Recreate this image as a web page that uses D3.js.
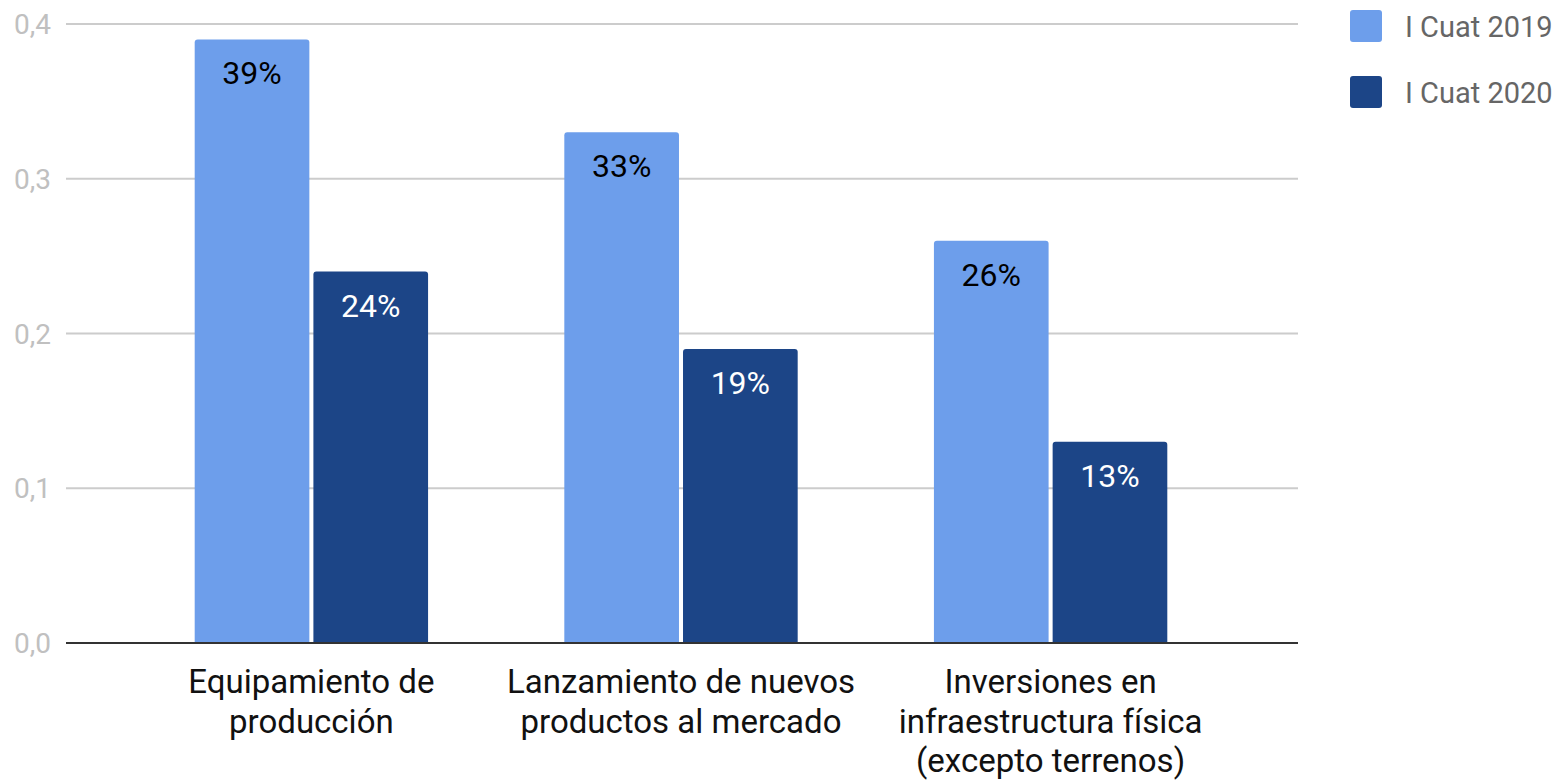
<!DOCTYPE html>
<html><head><meta charset="utf-8">
<script src="https://cdn.jsdelivr.net/npm/d3@7"></script>
<style>body{margin:0;background:#fff}svg{display:block;font-family:Roboto,sans-serif}</style>
</head><body><svg id="c" width="1560" height="782"></svg>
<script>
const categories = [["Equipamiento de","producción"],["Lanzamiento de nuevos","productos al mercado"],["Inversiones en","infraestructura física","(excepto terrenos)"]];
const seriesNames = ["I Cuat 2019","I Cuat 2020"];
const v2019 = [0.39,0.33,0.26];
const v2020 = [0.24,0.19,0.13];
const yTicks = [0,0.1,0.2,0.3,0.4];
const colors = ["#6d9eeb","#1c4587"];
const labelColors = ["#000","#fff"];

(function(){
const svg = d3.select("#c");
const pL=66, pR=1298, pT=24, pB=643;
const y = d3.scaleLinear().domain([0,0.4]).range([pB,pT]);
const x0 = d3.scaleBand().domain(d3.range(categories.length)).range([pL-2,pR]).paddingInner(0.3686).paddingOuter(0.3536);
const x1 = d3.scaleBand().domain([0,1]).range([0,x0.bandwidth()]).paddingInner(0.034);

svg.append("g").selectAll("line").data(yTicks.filter(d=>d>0)).join("line")
  .attr("x1",pL).attr("x2",pR).attr("y1",d=>y(d)).attr("y2",d=>y(d))
  .attr("stroke","#cccccc").attr("stroke-width",2);
svg.append("g").selectAll("text").data(yTicks).join("text")
  .attr("x",51).attr("y",d=>y(d)+10).attr("text-anchor","end")
  .attr("font-size",28).attr("fill","#c0c0c0").text(d=>d.toFixed(1).replace(".",","));

const data = categories.map((c,i)=>[v2019[i],v2020[i]]);
const r=3;
function barPath(x,w,yt,yb){return `M${x},${yb}V${yt+r}Q${x},${yt} ${x+r},${yt}H${x+w-r}Q${x+w},${yt} ${x+w},${yt+r}V${yb}Z`;}
const g = svg.append("g").selectAll("g").data(data).join("g").attr("transform",(d,i)=>`translate(${x0(i)},0)`);
g.selectAll("path").data(d=>d).join("path")
  .attr("d",(d,j)=>barPath(x1(j),x1.bandwidth(),y(d),pB)).attr("fill",(d,j)=>colors[j]);
g.selectAll("text").data(d=>d).join("text")
  .attr("x",(d,j)=>x1(j)+x1.bandwidth()/2).attr("y",d=>y(d)+45)
  .attr("text-anchor","middle").attr("font-size",32).attr("fill",(d,j)=>labelColors[j])
  .text(d=>Math.round(d*100)+"%");

svg.append("line").attr("x1",pL).attr("x2",pR).attr("y1",pB).attr("y2",pB).attr("stroke","#333").attr("stroke-width",2);

svg.append("g").selectAll("text").data(categories).join("text")
  .attr("x",(d,i)=>x0(i)+x0.bandwidth()/2).attr("y",693).attr("text-anchor","middle")
  .attr("font-size",33).attr("fill","#111")
  .each(function(d){const el=d3.select(this);el.selectAll("tspan").data(d).join("tspan")
    .attr("x",el.attr("x")).attr("dy",(t,k)=>k?39.5:0).text(t=>t);});

const lg = svg.append("g").selectAll("g").data(seriesNames).join("g").attr("transform",(d,i)=>`translate(1350,${10+i*66})`);
lg.append("rect").attr("width",32).attr("height",32).attr("rx",3).attr("fill",(d,i)=>colors[i]);
lg.append("text").attr("x",55).attr("y",27).attr("font-size",29).attr("fill","#666").text(d=>d);
})();
</script></body></html>
